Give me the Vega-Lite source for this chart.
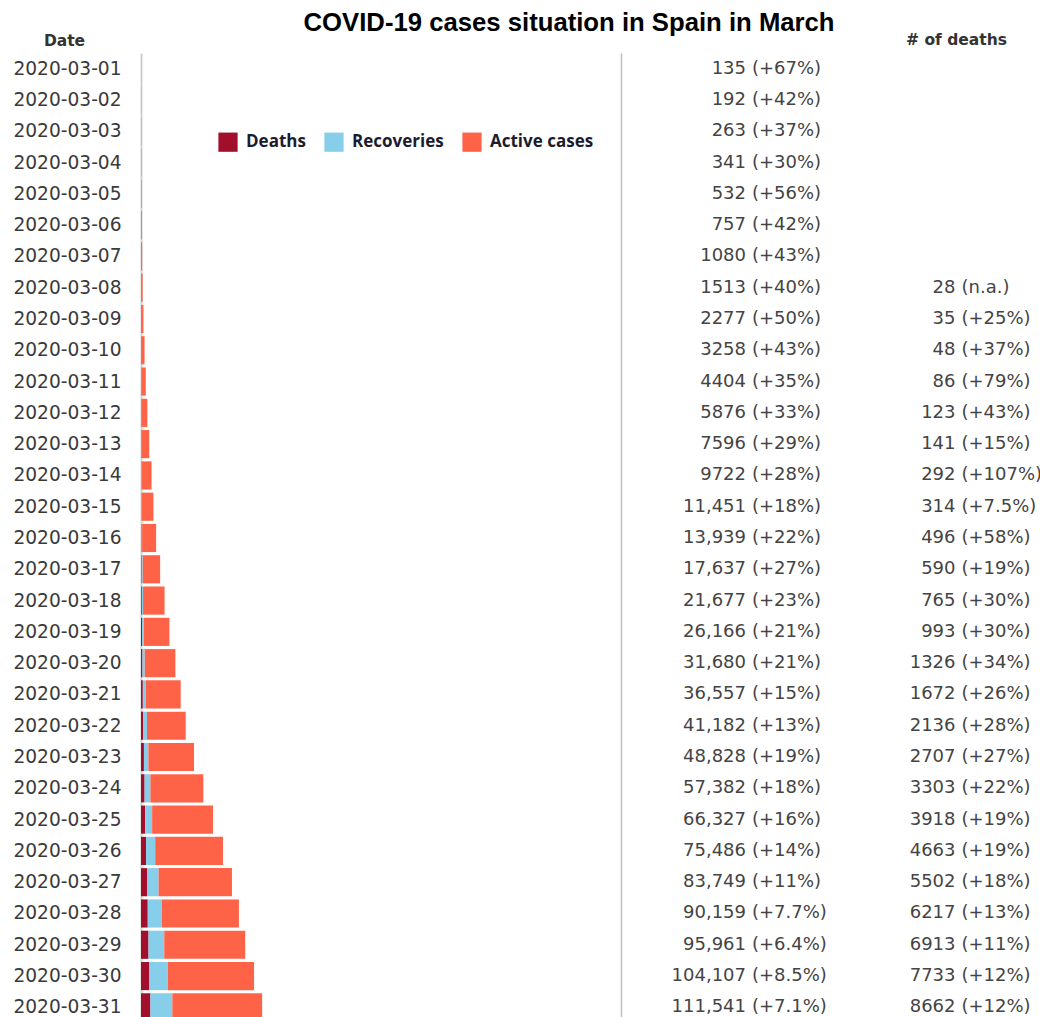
{
  "$schema": "https://vega.github.io/schema/vega-lite/v6.json",
  "padding": {"left": 0, "top": 10, "right": 0, "bottom": 0},
  "background": "white",
  "title": {"text": "COVID-19 cases situation in Spain in March", "font": "Liberation Sans", "fontSize": 25.7, "fontWeight": "bold", "color": "#000000", "anchor": "middle", "dx": 48, "offset": -4},
  "data": {"values": [
    {"Date": "2020-03-01", "Deaths": 0, "Recoveries": 2, "Active cases": 133, "casesText": "135", "casesPct": "(+67%)", "deathsText": "", "deathsPct": ""},
    {"Date": "2020-03-02", "Deaths": 0, "Recoveries": 2, "Active cases": 190, "casesText": "192", "casesPct": "(+42%)", "deathsText": "", "deathsPct": ""},
    {"Date": "2020-03-03", "Deaths": 0, "Recoveries": 2, "Active cases": 261, "casesText": "263", "casesPct": "(+37%)", "deathsText": "", "deathsPct": ""},
    {"Date": "2020-03-04", "Deaths": 0, "Recoveries": 2, "Active cases": 339, "casesText": "341", "casesPct": "(+30%)", "deathsText": "", "deathsPct": ""},
    {"Date": "2020-03-05", "Deaths": 0, "Recoveries": 2, "Active cases": 530, "casesText": "532", "casesPct": "(+56%)", "deathsText": "", "deathsPct": ""},
    {"Date": "2020-03-06", "Deaths": 0, "Recoveries": 2, "Active cases": 755, "casesText": "757", "casesPct": "(+42%)", "deathsText": "", "deathsPct": ""},
    {"Date": "2020-03-07", "Deaths": 0, "Recoveries": 28, "Active cases": 1052, "casesText": "1080", "casesPct": "(+43%)", "deathsText": "", "deathsPct": ""},
    {"Date": "2020-03-08", "Deaths": 28, "Recoveries": 32, "Active cases": 1453, "casesText": "1513", "casesPct": "(+40%)", "deathsText": "28", "deathsPct": "(n.a.)"},
    {"Date": "2020-03-09", "Deaths": 35, "Recoveries": 32, "Active cases": 2210, "casesText": "2277", "casesPct": "(+50%)", "deathsText": "35", "deathsPct": "(+25%)"},
    {"Date": "2020-03-10", "Deaths": 48, "Recoveries": 32, "Active cases": 3178, "casesText": "3258", "casesPct": "(+43%)", "deathsText": "48", "deathsPct": "(+37%)"},
    {"Date": "2020-03-11", "Deaths": 86, "Recoveries": 183, "Active cases": 4135, "casesText": "4404", "casesPct": "(+35%)", "deathsText": "86", "deathsPct": "(+79%)"},
    {"Date": "2020-03-12", "Deaths": 123, "Recoveries": 189, "Active cases": 5564, "casesText": "5876", "casesPct": "(+33%)", "deathsText": "123", "deathsPct": "(+43%)"},
    {"Date": "2020-03-13", "Deaths": 141, "Recoveries": 193, "Active cases": 7262, "casesText": "7596", "casesPct": "(+29%)", "deathsText": "141", "deathsPct": "(+15%)"},
    {"Date": "2020-03-14", "Deaths": 292, "Recoveries": 517, "Active cases": 8913, "casesText": "9722", "casesPct": "(+28%)", "deathsText": "292", "deathsPct": "(+107%)"},
    {"Date": "2020-03-15", "Deaths": 314, "Recoveries": 517, "Active cases": 10620, "casesText": "11,451", "casesPct": "(+18%)", "deathsText": "314", "deathsPct": "(+7.5%)"},
    {"Date": "2020-03-16", "Deaths": 496, "Recoveries": 530, "Active cases": 12913, "casesText": "13,939", "casesPct": "(+22%)", "deathsText": "496", "deathsPct": "(+58%)"},
    {"Date": "2020-03-17", "Deaths": 590, "Recoveries": 1028, "Active cases": 16019, "casesText": "17,637", "casesPct": "(+27%)", "deathsText": "590", "deathsPct": "(+19%)"},
    {"Date": "2020-03-18", "Deaths": 765, "Recoveries": 1107, "Active cases": 19805, "casesText": "21,677", "casesPct": "(+23%)", "deathsText": "765", "deathsPct": "(+30%)"},
    {"Date": "2020-03-19", "Deaths": 993, "Recoveries": 1588, "Active cases": 23585, "casesText": "26,166", "casesPct": "(+21%)", "deathsText": "993", "deathsPct": "(+30%)"},
    {"Date": "2020-03-20", "Deaths": 1326, "Recoveries": 2125, "Active cases": 28229, "casesText": "31,680", "casesPct": "(+21%)", "deathsText": "1326", "deathsPct": "(+34%)"},
    {"Date": "2020-03-21", "Deaths": 1672, "Recoveries": 2575, "Active cases": 32310, "casesText": "36,557", "casesPct": "(+15%)", "deathsText": "1672", "deathsPct": "(+26%)"},
    {"Date": "2020-03-22", "Deaths": 2136, "Recoveries": 3355, "Active cases": 35691, "casesText": "41,182", "casesPct": "(+13%)", "deathsText": "2136", "deathsPct": "(+28%)"},
    {"Date": "2020-03-23", "Deaths": 2707, "Recoveries": 4096, "Active cases": 42025, "casesText": "48,828", "casesPct": "(+19%)", "deathsText": "2707", "deathsPct": "(+27%)"},
    {"Date": "2020-03-24", "Deaths": 3303, "Recoveries": 5367, "Active cases": 48712, "casesText": "57,382", "casesPct": "(+18%)", "deathsText": "3303", "deathsPct": "(+22%)"},
    {"Date": "2020-03-25", "Deaths": 3918, "Recoveries": 6345, "Active cases": 56064, "casesText": "66,327", "casesPct": "(+16%)", "deathsText": "3918", "deathsPct": "(+19%)"},
    {"Date": "2020-03-26", "Deaths": 4663, "Recoveries": 8400, "Active cases": 62423, "casesText": "75,486", "casesPct": "(+14%)", "deathsText": "4663", "deathsPct": "(+19%)"},
    {"Date": "2020-03-27", "Deaths": 5502, "Recoveries": 10700, "Active cases": 67547, "casesText": "83,749", "casesPct": "(+11%)", "deathsText": "5502", "deathsPct": "(+18%)"},
    {"Date": "2020-03-28", "Deaths": 6217, "Recoveries": 13000, "Active cases": 70942, "casesText": "90,159", "casesPct": "(+7.7%)", "deathsText": "6217", "deathsPct": "(+13%)"},
    {"Date": "2020-03-29", "Deaths": 6913, "Recoveries": 14500, "Active cases": 74548, "casesText": "95,961", "casesPct": "(+6.4%)", "deathsText": "6913", "deathsPct": "(+11%)"},
    {"Date": "2020-03-30", "Deaths": 7733, "Recoveries": 17000, "Active cases": 79374, "casesText": "104,107", "casesPct": "(+8.5%)", "deathsText": "7733", "deathsPct": "(+12%)"},
    {"Date": "2020-03-31", "Deaths": 8662, "Recoveries": 20200, "Active cases": 82679, "casesText": "111,541", "casesPct": "(+7.1%)", "deathsText": "8662", "deathsPct": "(+12%)"}
  ]},
  "spacing": 0,
  "hconcat": [
    {
      "width": 480,
      "height": 970,
      "transform": [
        {"fold": ["Deaths", "Recoveries", "Active cases"], "as": ["Type", "Count"]},
        {"window": [{"op": "row_number", "as": "stackRank"}], "groupby": ["Date"]}
      ],
      "mark": {"type": "bar"},
      "encoding": {
        "y": {"field": "Date", "type": "ordinal", "scale": {"paddingInner": 0.1, "paddingOuter": 0.05},
          "axis": {"title": "Date", "titleAngle": 0, "titleX": -77, "titleY": -5, "titleAlign": "center", "titleBaseline": "bottom",
            "titleFont": "DejaVu Sans", "titleFontSize": 15.5, "titleFontWeight": "bold", "titleColor": "#333333",
            "labelFont": "DejaVu Sans", "labelFontSize": 18.6, "labelColor": "#3a3a3a", "labelPadding": 20,
            "ticks": false, "domainColor": "#d4d4d4", "domainWidth": 2, "minExtent": 141, "maxExtent": 141}},
        "x": {"field": "Count", "type": "quantitative", "stack": "zero", "scale": {"domain": [0, 442000], "nice": false}, "axis": null},
        "order": {"field": "stackRank", "type": "quantitative", "sort": "ascending"},
        "color": {"field": "Type", "type": "nominal", "sort": ["Deaths", "Recoveries", "Active cases"],
          "scale": {"domain": ["Deaths", "Recoveries", "Active cases"], "range": ["#A20F2D", "#87CEEB", "#FF6347"]},
          "legend": {"orient": "none", "legendX": 77, "legendY": 79, "direction": "horizontal", "title": null,
            "symbolType": "square", "symbolSize": 370, "symbolStrokeWidth": 0, "symbolOpacity": 1,
            "labelFont": "Open Sans", "labelFontWeight": "bold", "labelFontSize": 17, "labelColor": "#1c1c2e",
            "labelOffset": 8, "columnPadding": 18}}
      }
    },
    {
      "width": 256,
      "height": 970,
      "encoding": {
        "y": {"field": "Date", "type": "ordinal", "scale": {"paddingInner": 0.1, "paddingOuter": 0.05},
          "axis": {"title": null, "labels": false, "ticks": false, "domainColor": "#bdbdbd", "domainWidth": 1.5, "minExtent": 0, "maxExtent": 0}}
      },
      "layer": [
        {"mark": {"type": "text", "align": "right", "baseline": "middle", "dx": -3, "font": "DejaVu Sans", "fontSize": 18, "color": "#444444"},
          "encoding": {"text": {"field": "casesText"}}},
        {"mark": {"type": "text", "align": "left", "baseline": "middle", "dx": 3, "font": "DejaVu Sans", "fontSize": 18, "color": "#444444"},
          "encoding": {"text": {"field": "casesPct"}}}
      ]
    },
    {
      "width": 163,
      "height": 970,
      "title": {"text": "# of deaths", "font": "DejaVu Sans", "fontSize": 15.5, "fontWeight": "bold", "color": "#333333", "anchor": "middle", "dx": -2, "offset": 4.5},
      "encoding": {
        "y": {"field": "Date", "type": "ordinal", "scale": {"paddingInner": 0.1, "paddingOuter": 0.05}, "axis": null}
      },
      "layer": [
        {"mark": {"type": "text", "align": "right", "baseline": "middle", "dx": -3, "font": "DejaVu Sans", "fontSize": 18, "color": "#444444"},
          "encoding": {"text": {"field": "deathsText"}}},
        {"mark": {"type": "text", "align": "left", "baseline": "middle", "dx": 3, "font": "DejaVu Sans", "fontSize": 18, "color": "#444444"},
          "encoding": {"text": {"field": "deathsPct"}}}
      ]
    }
  ],
  "config": {"view": {"stroke": null}, "concat": {"spacing": 0}}
}
